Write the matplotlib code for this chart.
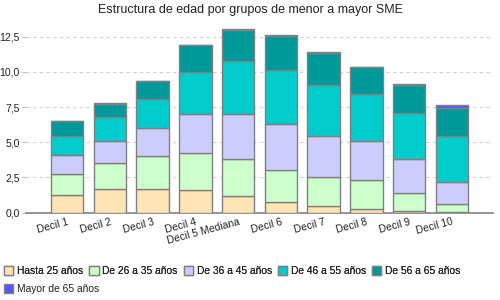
import matplotlib
matplotlib.use("Agg")
import matplotlib.pyplot as plt
import numpy as np
from matplotlib.ticker import FuncFormatter, MultipleLocator

plt.rcParams["font.family"] = ["Liberation Sans", "DejaVu Sans"]

categories = ["Decil 1", "Decil 2", "Decil 3", "Decil 4", "Decil 5 Mediana",
              "Decil 6", "Decil 7", "Decil 8", "Decil 9", "Decil 10"]
series_names = ["Hasta 25 años", "De 26 a 35 años", "De 36 a 45 años",
                "De 46 a 55 años", "De 56 a 65 años", "Mayor de 65 años"]
hasta25 = [1.29, 1.66, 1.66, 1.59, 1.16, 0.74, 0.45, 0.24, 0.10, 0.03]
de26_35 = [1.46, 1.88, 2.33, 2.66, 2.62, 2.26, 2.05, 2.05, 1.27, 0.56]
de36_45 = [1.34, 1.58, 2.03, 2.76, 3.23, 3.26, 2.95, 2.83, 2.41, 1.56]
de46_55 = [1.35, 1.67, 2.05, 2.97, 3.78, 3.89, 3.64, 3.33, 3.33, 3.26]
de56_65 = [1.08, 0.95, 1.25, 1.89, 2.21, 2.36, 2.26, 1.86, 1.98, 2.05]
mayor65 = [0.02, 0.02, 0.03, 0.03, 0.04, 0.08, 0.04, 0.03, 0.03, 0.16]
series = [hasta25, de26_35, de36_45, de46_55, de56_65, mayor65]
colors = ["#FFE4B5", "#CCFFCC", "#CCCCFF", "#00CCCC", "#009999", "#5555FF"]

fig = plt.figure(figsize=(5, 3), dpi=100)
ax = fig.add_axes([0.052, 0.291, 0.933, 0.62])

x = np.arange(len(categories))
bottom = np.zeros(len(categories))
for name, vals, c in zip(series_names, series, colors):
    ax.bar(x, vals, width=0.76, bottom=bottom, color=c, edgecolor="#808080",
           linewidth=1.0, label=name, zorder=3)
    bottom += np.array(vals)

ax.set_xlim(-0.96, 9.95)
ax.set_ylim(0, 13.2)
ax.yaxis.set_major_locator(MultipleLocator(2.5))
ax.yaxis.set_major_formatter(FuncFormatter(lambda v, p: f"{v:.1f}".replace(".", ",")))
ax.grid(axis="y", color="#d0d0d0", linestyle=(0, (3, 3)), linewidth=0.8, zorder=0)
for s in ["top", "right", "left"]:
    ax.spines[s].set_visible(False)
ax.spines["bottom"].set_color("#808080")
ax.spines["bottom"].set_linewidth(1.2)
ax.tick_params(axis="y", length=3, color="#c0c0c0", labelsize=7.5, pad=1.5,
               labelcolor="#222222")
ax.tick_params(axis="x", length=0, labelsize=7.5, pad=3, labelcolor="#222222")
ax.set_xticks(x)
ax.set_xticklabels(categories, rotation=15, ha="right", rotation_mode="anchor")

fig.text(0.5, 0.968, "Estructura de edad por grupos de menor a mayor SME",
         ha="center", va="center", fontsize=9, color="#222222")

handles, labels = ax.get_legend_handles_labels()
leg_kw = dict(frameon=False, fontsize=7.4, handlelength=0.9, handleheight=0.9,
              handletextpad=0.35, columnspacing=0.6, borderaxespad=0, borderpad=0.0,
              labelcolor="#222222")
leg1 = fig.legend(handles[:5], labels[:5], loc="center left",
                  bbox_to_anchor=(0.008, 0.097), ncol=5, **leg_kw)
fig.add_artist(leg1)
fig.legend(handles[5:], labels[5:], loc="center left",
           bbox_to_anchor=(0.008, 0.037), ncol=1, **leg_kw)

fig.savefig("out.png", dpi=100)
